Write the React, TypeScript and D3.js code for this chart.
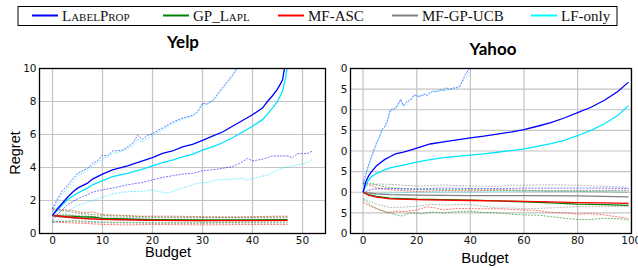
import React from "react";
import * as d3 from "d3";

type Pt = [number, number];

// legend
const methods = ["LabelProp", "GP_Lapl", "MF-ASC", "MF-GP-UCB", "LF-only"];
const colors = ["#0000ff", "#008000", "#ff0000", "#808080", "#00e5ff"];

// ---- Yelp (budget, regret)
const yelpTicksX = [0, 10, 20, 30, 40, 50];
const yelpTicksY = [0, 2, 4, 6, 8, 10];

const yelpLabelProp: Pt[] = [[0, 1.1], [1, 1.5], [2, 1.85], [3, 2.2], [4, 2.5], [5, 2.75], [7, 3.05], [8, 3.3], [10, 3.6], [12, 3.85], [15, 4.1], [18, 4.4], [20, 4.6], [22, 4.85], [24, 5.0], [26, 5.25], [28, 5.4], [30, 5.65], [32, 5.9], [34, 6.15], [36, 6.5], [38, 6.85], [40, 7.2], [42, 7.6], [43, 8.0], [44, 8.35], [45, 8.75], [46, 9.3], [46.5, 10.2]];
const yelpLFOnly: Pt[] = [[0, 1.1], [1, 1.4], [2, 1.75], [3, 2.05], [5, 2.45], [7, 2.75], [8, 2.95], [10, 3.2], [12, 3.45], [15, 3.65], [18, 3.9], [20, 4.1], [22, 4.3], [24, 4.45], [26, 4.65], [28, 4.8], [30, 5.05], [32, 5.25], [34, 5.5], [36, 5.8], [38, 6.15], [40, 6.5], [42, 6.9], [44, 7.6], [45, 8.0], [46, 8.6], [46.6, 9.4], [47, 10.2]];
const yelpLPHigh: Pt[] = [[0, 1.5], [1, 2.1], [2, 2.6], [3, 2.9], [4, 3.3], [5, 3.65], [7, 3.95], [8, 4.25], [9, 4.4], [10, 4.75], [11, 4.7], [12, 5.0], [14, 5.05], [16, 5.45], [17, 5.95], [18, 5.7], [19, 5.95], [20, 6.05], [22, 6.4], [24, 6.75], [26, 7.0], [28, 7.15], [29, 7.35], [30, 7.9], [31, 7.85], [32, 8.05], [34, 8.85], [36, 9.6], [37.2, 10.2]];
const yelpLFHigh: Pt[] = [[0, 1.3], [1, 1.9], [2, 2.4], [4, 3.1], [5, 3.5], [7, 3.85], [8, 4.1], [10, 4.5], [12, 4.85], [14, 5.0], [16, 5.3], [17, 5.7], [18, 5.55], [20, 5.95], [22, 6.3], [24, 6.65], [26, 6.95], [28, 7.1], [30, 7.75], [32, 8.0], [34, 8.75], [36, 9.5], [37.6, 10.2]];
const yelpLPLow: Pt[] = [[0, 0.8], [1, 1.15], [2, 1.45], [3, 1.75], [5, 2.1], [7, 2.35], [8, 2.5], [10, 2.65], [12, 2.75], [15, 2.95], [18, 3.1], [20, 3.25], [22, 3.4], [24, 3.5], [26, 3.6], [28, 3.65], [30, 3.8], [33, 3.9], [36, 4.05], [38, 4.35], [39, 4.55], [40, 4.4], [42, 4.5], [44, 4.7], [47, 4.7], [48, 4.6], [49, 4.85], [51, 4.85], [52, 5.0]];
const yelpLFLow: Pt[] = [[0, 0.6], [1, 0.8], [2, 1.05], [3, 1.35], [5, 1.7], [7, 1.9], [8, 2.0], [10, 2.2], [12, 2.4], [14, 2.5], [16, 2.55], [18, 2.55], [20, 2.65], [21, 2.55], [23, 2.45], [25, 2.65], [27, 2.85], [29, 3.05], [31, 3.1], [33, 3.25], [36, 3.3], [38, 3.35], [39, 3.25], [41, 3.4], [43, 3.55], [45, 3.85], [47, 4.05], [49, 4.15], [51, 4.3], [52, 4.5]];
const yelpGP: Pt[] = [[0, 1.1], [2, 1.05], [4, 1.05], [6, 1.0], [8, 1.0], [10, 0.92], [15, 0.88], [20, 0.84], [30, 0.82], [40, 0.83], [47, 0.84]];
const yelpMFASC: Pt[] = [[0, 1.1], [3, 1.0], [6, 0.92], [10, 0.85], [15, 0.82], [20, 0.8], [30, 0.78], [40, 0.78], [47, 0.79]];
const yelpUCB: Pt[] = [[0, 1.05], [5, 0.92], [10, 0.85], [20, 0.8], [30, 0.78], [47, 0.8]];
const yelpASCHigh: Pt[] = [[0, 1.5], [2, 1.45], [4, 1.4], [6, 1.25], [8, 1.3], [10, 1.15], [14, 1.1], [18, 1.05], [24, 1.05], [30, 1.02], [36, 1.0], [40, 1.02], [45, 1.05], [47, 1.05]];
const yelpGPHigh: Pt[] = [[0, 1.45], [3, 1.35], [6, 1.2], [10, 1.1], [15, 1.05], [20, 1.0], [30, 0.98], [40, 0.98], [47, 1.0]];
const yelpASCLow: Pt[] = [[0, 0.7], [3, 0.65], [6, 0.62], [10, 0.55], [15, 0.52], [20, 0.55], [30, 0.52], [40, 0.55], [47, 0.55]];
const yelpGPLow: Pt[] = [[0, 0.7], [4, 0.78], [8, 0.72], [12, 0.68], [20, 0.65], [30, 0.65], [40, 0.68], [47, 0.7]];
const yelpUCBHigh: Pt[] = [[0, 1.2], [5, 1.1], [10, 1.0], [20, 0.95], [30, 0.95], [47, 0.95]];
const yelpUCBLow: Pt[] = [[0, 0.75], [5, 0.7], [10, 0.65], [20, 0.62], [30, 0.62], [47, 0.64]];

// ---- Yahoo (budget, regret)
const yahooTicksX = [0, 20, 40, 60, 80, 100];
const yahooTicksY = [-10, -5, 0, 5, 10, 15, 20, 25, 30];

const yahooLabelProp: Pt[] = [[0, 0], [1, 2.5], [2, 3.9], [3, 4.9], [5, 6.4], [8, 7.9], [10, 8.6], [12, 9.3], [15, 9.7], [18, 10.3], [20, 10.7], [25, 11.7], [30, 12.2], [35, 12.7], [40, 13.2], [45, 13.6], [50, 14.1], [55, 14.6], [60, 15.2], [65, 16.0], [70, 16.9], [75, 18.0], [80, 19.3], [85, 20.6], [90, 22.3], [95, 24.4], [99, 26.7]];
const yahooLFOnly: Pt[] = [[0, 0], [1, 1.7], [2, 2.9], [3, 3.7], [5, 4.6], [8, 5.4], [10, 5.9], [15, 6.6], [20, 7.3], [25, 7.9], [30, 8.4], [35, 8.7], [40, 9.0], [45, 9.3], [50, 9.7], [55, 10.1], [60, 10.5], [65, 11.1], [70, 11.8], [75, 12.6], [80, 13.7], [85, 15.0], [90, 16.6], [95, 18.6], [99, 21.0]];
const yahooLPHigh: Pt[] = [[0, 2], [1, 4.5], [2, 6.5], [3, 8.5], [4, 10.2], [5, 12], [6, 13.2], [7, 15.2], [8, 15.8], [9, 17.2], [10, 19.8], [11, 20.2], [12, 20.4], [13, 21.2], [14, 22.6], [15, 21.0], [16, 21.8], [18, 22.6], [19, 23.6], [21, 23.2], [23, 23.8], [24, 23.4], [26, 24.6], [27, 24.3], [29, 24.9], [30, 24.7], [31, 25.4], [32, 24.9], [34, 25.3], [36, 25.6], [37, 27.0], [38, 28.4], [39, 29.4], [39.8, 30.4]];
const yahooLFHigh: Pt[] = [[0, 1.5], [1, 4], [2, 6], [3, 8], [4, 9.8], [5, 11.5], [7, 14.8], [9, 16.8], [10, 19.5], [12, 20.1], [14, 22.2], [15, 20.8], [17, 21.6], [19, 23.3], [22, 23.4], [25, 24.2], [28, 24.6], [30, 24.6], [33, 25.0], [35, 25.2], [37, 26.6], [39, 28.5], [40.6, 30.4]];
const yahooLPLow: Pt[] = [[0, -0.3], [2, 0.5], [4, 0.8], [10, 0.9], [20, 0.8], [30, 1.0], [40, 0.9], [50, 0.9], [60, 1.0], [70, 1.0], [80, 1.0], [90, 1.0], [99, 0.9]];
const yahooLFLow: Pt[] = [[0, -2], [2, -1.0], [5, -0.4], [10, -0.2], [20, 0.0], [30, 0.1], [40, 0.0], [50, 0.2], [60, 0.3], [70, 0.2], [80, 0.3], [90, 0.3], [99, 0.3]];
const yahooGP: Pt[] = [[0, 0], [2, -0.6], [5, -1.0], [10, -1.4], [20, -1.7], [30, -1.8], [40, -1.9], [50, -2.1], [60, -2.3], [70, -2.6], [80, -2.9], [90, -3.0], [99, -3.2]];
const yahooMFASC: Pt[] = [[0, 0], [2, -0.7], [5, -1.2], [10, -1.6], [20, -1.8], [30, -1.9], [40, -2.0], [50, -2.1], [60, -2.2], [70, -2.35], [80, -2.5], [90, -2.6], [99, -2.7]];
const yahooUCB: Pt[] = [[0, 0], [5, -0.4], [10, -0.6], [20, -0.7], [40, -0.8], [60, -0.8], [80, -0.9], [99, -1.1]];
const yahooASCHigh: Pt[] = [[0, 2.5], [3, 1.6], [5, 1.1], [10, 0.6], [15, 0.4], [20, 0.2], [30, 0.4], [40, 0.3], [50, 0.6], [60, 0.5], [70, 0.3], [80, 0.4], [90, 0.4], [99, 0.5]];
const yahooASCLow: Pt[] = [[0, -2.5], [3, -3.5], [6, -4.2], [9, -5.0], [12, -4.6], [16, -4.7], [20, -4.3], [24, -3.5], [27, -3.8], [30, -4.3], [35, -3.9], [40, -4.0], [50, -4.0], [60, -4.3], [65, -4.4], [70, -4.9], [75, -5.0], [80, -5.3], [85, -5.2], [90, -5.5], [95, -6.0], [99, -6.3]];
const yahooGPHigh: Pt[] = [[0, 2.0], [3, 2.2], [6, 1.6], [10, 1.1], [15, 0.8], [20, 0.7], [30, 0.6], [40, 0.6], [50, 0.5], [60, 0.3], [70, 0.3], [80, 0.2], [90, 0.1], [99, 0.0]];
const yahooGPLow: Pt[] = [[0, -1.8], [3, -3.2], [6, -4.2], [10, -5.0], [14, -5.8], [18, -5.0], [22, -5.2], [26, -4.8], [30, -5.0], [35, -4.7], [40, -4.6], [45, -4.9], [50, -5.0], [55, -5.3], [60, -5.5], [66, -5.6], [70, -5.9], [75, -6.3], [80, -6.6], [85, -6.6], [90, -6.3], [95, -6.4], [99, -6.7]];
const yahooUCBHigh: Pt[] = [[0, 1.5], [3, 1.8], [6, 2.0], [10, 1.9], [15, 1.7], [20, 1.5], [25, 1.6], [30, 1.8], [35, 1.6], [40, 1.5], [50, 1.4], [55, 1.7], [60, 1.7], [70, 1.8], [80, 1.7], [90, 1.4], [99, 1.2]];
const yahooUCBLow: Pt[] = [[0, -1.5], [3, -2.4], [6, -3.1], [10, -3.7], [15, -3.6], [20, -3.4], [25, -2.9], [30, -3.1], [35, -3.0], [40, -3.0], [45, -3.4], [50, -3.8], [55, -3.8], [60, -4.0], [70, -3.8], [80, -3.5], [90, -3.5], [99, -3.4]];

type Series = { pts: Pt[]; color: string; dashed?: boolean };

const yelpSeries: Series[] = [
  { pts: yelpUCBHigh, color: colors[3], dashed: true },
  { pts: yelpUCBLow, color: colors[3], dashed: true },
  { pts: yelpASCHigh, color: colors[2], dashed: true },
  { pts: yelpASCLow, color: colors[2], dashed: true },
  { pts: yelpGPHigh, color: colors[1], dashed: true },
  { pts: yelpGPLow, color: colors[1], dashed: true },
  { pts: yelpLPHigh, color: colors[0], dashed: true },
  { pts: yelpLPLow, color: colors[0], dashed: true },
  { pts: yelpLFHigh, color: colors[4], dashed: true },
  { pts: yelpLFLow, color: colors[4], dashed: true },
  { pts: yelpUCB, color: colors[3] },
  { pts: yelpGP, color: colors[1] },
  { pts: yelpMFASC, color: colors[2] },
  { pts: yelpLFOnly, color: colors[4] },
  { pts: yelpLabelProp, color: colors[0] },
];

const yahooSeries: Series[] = [
  { pts: yahooUCBHigh, color: colors[3], dashed: true },
  { pts: yahooUCBLow, color: colors[3], dashed: true },
  { pts: yahooASCHigh, color: colors[2], dashed: true },
  { pts: yahooASCLow, color: colors[2], dashed: true },
  { pts: yahooGPHigh, color: colors[1], dashed: true },
  { pts: yahooGPLow, color: colors[1], dashed: true },
  { pts: yahooLPHigh, color: colors[0], dashed: true },
  { pts: yahooLPLow, color: colors[0], dashed: true },
  { pts: yahooLFHigh, color: colors[4], dashed: true },
  { pts: yahooLFLow, color: colors[4], dashed: true },
  { pts: yahooUCB, color: colors[3] },
  { pts: yahooGP, color: colors[1] },
  { pts: yahooMFASC, color: colors[2] },
  { pts: yahooLFOnly, color: colors[4] },
  { pts: yahooLabelProp, color: colors[0] },
];

const tickFont = "'DejaVu Sans', sans-serif";
const labelFont = "'Liberation Sans', sans-serif";

function Panel(props: {
  id: string;
  left: number;
  right: number;
  top: number;
  bottom: number;
  xDomain: [number, number];
  yDomain: [number, number];
  xTicks: number[];
  yTicks: number[];
  series: Series[];
  labelClipX?: number;
}) {
  const { id, left, right, top, bottom, series } = props;
  const x = d3.scaleLinear().domain(props.xDomain).range([left, right]);
  const y = d3.scaleLinear().domain(props.yDomain).range([bottom, top]);
  const line = d3
    .line<Pt>()
    .x((d) => x(d[0]))
    .y((d) => y(d[1]));

  return (
    <g>
      <defs>
        <clipPath id={`plot-${id}`}>
          <rect x={left} y={top} width={right - left} height={bottom - top} />
        </clipPath>
        {props.labelClipX !== undefined && (
          <clipPath id={`lab-${id}`}>
            <rect x={props.labelClipX} y={0} width={100} height={270} />
          </clipPath>
        )}
      </defs>
      <rect x={left} y={top} width={right - left} height={bottom - top} fill="#fff" />
      {props.xTicks.map((t) => (
        <line key={"gx" + t} x1={x(t)} x2={x(t)} y1={top} y2={bottom} stroke="#c4c4c4" strokeWidth={1.2} />
      ))}
      {props.yTicks.map((t) => (
        <line key={"gy" + t} x1={left} x2={right} y1={y(t)} y2={y(t)} stroke="#c4c4c4" strokeWidth={1.2} />
      ))}
      <g clipPath={`url(#plot-${id})`}>
        {series.map((s, i) => (
          <path
            key={i}
            d={line(s.pts) || ""}
            fill="none"
            stroke={s.color}
            strokeWidth={s.dashed ? 1 : 1.3}
            strokeOpacity={s.dashed ? 0.55 : 1}
            strokeDasharray={s.dashed ? "2,1.2" : undefined}
          />
        ))}
      </g>
      <rect x={left} y={top} width={right - left} height={bottom - top} fill="none" stroke="#000" strokeWidth={1.3} />
      <g clipPath={props.labelClipX !== undefined ? `url(#lab-${id})` : undefined}>
        {props.yTicks.map((t) => (
          <text key={"ty" + t} x={left - 3} y={y(t)} dy="0.36em" textAnchor="end" fontFamily={tickFont} fontSize={10.5} fill="#111">
            {t < 0 ? "\u2212" + Math.abs(t) : String(t)}
          </text>
        ))}
      </g>
      {props.xTicks.map((t) => (
        <text key={"tx" + t} x={x(t)} y={bottom + 10.5} textAnchor="middle" fontFamily={tickFont} fontSize={10.5} fill="#111">
          {t}
        </text>
      ))}
    </g>
  );
}

export default function App() {
  const legendX = [32, 163, 278, 392, 531];
  return (
    <svg width={638} height={270} style={{ position: "absolute", left: 0, top: 0, background: "#fff" }}>
      <rect x={0} y={0} width={638} height={270} fill="#fff" />
      {/* legend */}
      <rect x={18} y={6.5} width={599} height={19} fill="#fff" stroke="#000" strokeWidth={1} />
      {methods.map((m, i) => (
        <g key={m}>
          <line x1={legendX[i]} x2={legendX[i] + 26} y1={15.5} y2={15.5} stroke={colors[i] === "#00e5ff" ? "#00ffff" : colors[i]} strokeWidth={2} />
          <text
            x={legendX[i] + 30}
            y={20.5}
            fontFamily="'Liberation Serif', serif"
            fontSize={15}
            fontVariant={i < 2 ? "small-caps" : undefined}
            fill="#111"
          >
            {m}
          </text>
        </g>
      ))}

      {/* Yelp */}
      <text x={183} y={48} textAnchor="middle" fontFamily="Lato, sans-serif" fontWeight="bold" fontSize={17}>
        Yelp
      </text>
      <Panel
        id="yelp"
        left={39.5}
        right={325.5}
        top={68.5}
        bottom={233.5}
        xDomain={[-2.6, 54.6]}
        yDomain={[0, 10]}
        xTicks={yelpTicksX}
        yTicks={yelpTicksY}
        series={yelpSeries}
      />
      <text transform="translate(20,153) rotate(-90)" textAnchor="middle" fontFamily={labelFont} fontSize={14.5}>
        Regret
      </text>
      <text x={168} y={256.5} textAnchor="middle" fontFamily={labelFont} fontSize={14.5}>
        Budget
      </text>

      {/* Yahoo */}
      <text x={493} y={55} textAnchor="middle" fontFamily="Lato, sans-serif" fontWeight="bold" fontSize={17}>
        Yahoo
      </text>
      <Panel
        id="yahoo"
        left={350.5}
        right={631.5}
        top={68.5}
        bottom={233.5}
        xDomain={[-4.7, 100.1]}
        yDomain={[-10, 30]}
        xTicks={yahooTicksX}
        yTicks={yahooTicksY}
        series={yahooSeries}
        labelClipX={340}
      />
      <text x={485} y={263} textAnchor="middle" fontFamily={labelFont} fontSize={15}>
        Budget
      </text>
    </svg>
  );
}
